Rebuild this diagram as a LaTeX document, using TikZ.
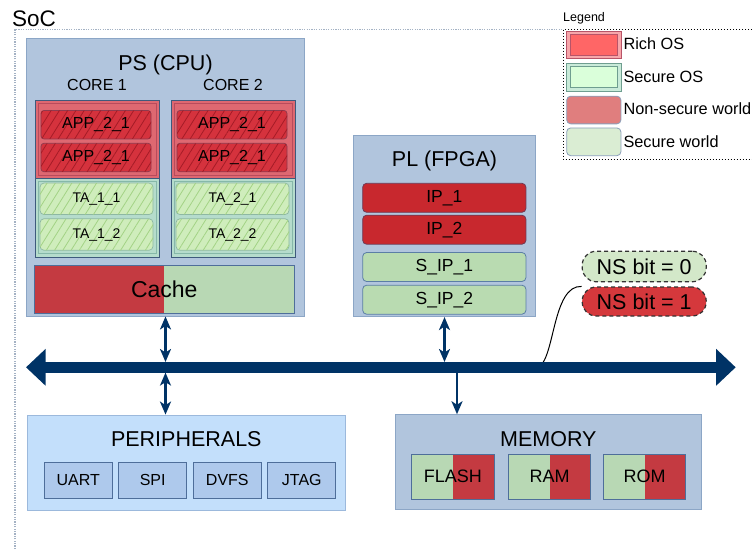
\documentclass[tikz,border=0pt]{standalone}
\usepackage{fontspec}
\setmainfont{Liberation Sans}
\definecolor{BLOCKcolor}{HTML}{B1C5DD}
\definecolor{BLOCKline}{HTML}{8CA6C6}
\definecolor{PERcolor}{HTML}{C3DFFB}
\definecolor{PERline}{HTML}{9CB9DC}
\definecolor{SUBcolor}{HTML}{AEC9EC}
\definecolor{SUBline}{HTML}{4E6E9A}
\definecolor{BUScolor}{HTML}{003366}
\definecolor{COREline}{HTML}{3E5A7C}
\definecolor{NWcolor}{HTML}{DE6871}
\definecolor{NWline}{HTML}{B84B5C}
\definecolor{APPcolor}{HTML}{D5323D}
\definecolor{APPhatch}{HTML}{A51C27}
\definecolor{APPline}{HTML}{8E3A4E}
\definecolor{SWcolor}{HTML}{B5DCCC}
\definecolor{SWline}{HTML}{86B8A9}
\definecolor{TAcolor}{HTML}{CFEDBC}
\definecolor{TAhatch}{HTML}{A3D385}
\definecolor{TAline}{HTML}{8DB7A3}
\definecolor{REDcolor}{HTML}{C43A41}
\definecolor{GREENcolor}{HTML}{B8D8B4}
\definecolor{IPcolor}{HTML}{C8282E}
\definecolor{IPline}{HTML}{6F3A55}
\definecolor{SIPcolor}{HTML}{B9DBB1}
\definecolor{SIPline}{HTML}{5B7EA6}
\definecolor{NSZcolor}{HTML}{D3E8C9}
\definecolor{NSOcolor}{HTML}{D5383C}
\definecolor{RICHcolor}{HTML}{F7A6AA}
\definecolor{RICHin}{HTML}{FF6666}
\definecolor{RICHline}{HTML}{B85468}
\definecolor{SECcolor}{HTML}{C9EBD9}
\definecolor{SECin}{HTML}{DAFFDA}
\definecolor{SECline}{HTML}{6F9E90}
\definecolor{NSWcolor}{HTML}{E07E7E}
\definecolor{SWLcolor}{HTML}{DAEDD3}
\definecolor{LEGline}{HTML}{8A9FBA}
\definecolor{SOCline}{HTML}{A4B2C4}
\usepackage{tikz}
\usetikzlibrary{math, arrows.meta, patterns.meta}

\begin{document}
\begin{tikzpicture}[x=1pt, y=-1pt]

    \tikzset{%
        block/.style={draw=BLOCKline, fill=BLOCKcolor, line width=0.8pt, inner sep=0pt},
        heading/.style={font=\fontsize{21.5}{22}\selectfont, inner sep=0pt, anchor=base},
        corelabel/.style={font=\fontsize{16}{16}\selectfont, inner sep=0pt, anchor=base},
        world/.style={draw=COREline, line width=0.9pt, minimum width=124pt, minimum height=78.4pt, inner sep=0pt, anchor=north west},
        app/.style={draw=APPline, fill=APPcolor, rounded corners=3pt, line width=0.7pt, minimum width=110pt, minimum height=28.5pt, inner sep=0pt, font=\fontsize{16}{16}\selectfont,
                postaction={pattern color=APPhatch, pattern={Lines[angle=58, distance=7pt, line width=0.8pt]}}},
        ta/.style={draw=TAline, fill=TAcolor, rounded corners=4pt, line width=0.7pt, minimum width=113pt, minimum height=31.5pt, inner sep=0pt, font=\fontsize{14}{14}\selectfont,
                postaction={pattern color=TAhatch, pattern={Lines[angle=58, distance=7pt, line width=0.8pt]}}},
        split/.style 2 args={path picture={%
                        \fill [#1] (path picture bounding box.north west) rectangle (path picture bounding box.south);
                        \fill [#2] (path picture bounding box.north) rectangle (path picture bounding box.south east);
                    }},
        cache/.style={split={REDcolor}{GREENcolor}, draw=SUBline, line width=0.8pt, minimum width=260pt, minimum height=47.6pt, inner sep=0pt, font=\fontsize{23}{23}\selectfont},
        ip/.style={draw=IPline, fill=IPcolor, rounded corners=4pt, line width=0.8pt, minimum width=163.3pt, minimum height=29pt, inner sep=0pt, font=\fontsize{17.5}{17.5}\selectfont},
        sip/.style={ip, draw=SIPline, fill=SIPcolor},
        nsbit/.style={draw=black!80, dash pattern=on 4pt off 3pt, line width=1.2pt, rounded corners=14pt, minimum width=124pt, minimum height=30.5pt, inner sep=0pt, font=\fontsize{21.5}{21.5}\selectfont},
        sub/.style={draw=SUBline, fill=SUBcolor, line width=0.8pt, minimum width=68pt, minimum height=36.5pt, inner sep=0pt, font=\fontsize{16}{16}\selectfont},
        mempart/.style={split={GREENcolor}{REDcolor}, draw=SUBline, line width=0.8pt, minimum width=82.3pt, minimum height=44.7pt, inner sep=0pt, font=\fontsize{18}{18}\selectfont},
        swatch/.style={line width=0.8pt, minimum width=54.3pt, minimum height=27.7pt, inner sep=0pt},
        swatchin/.style={line width=0.8pt, minimum width=47.7pt, minimum height=20.7pt, inner sep=0pt},
        legtext/.style={font=\fontsize{16.3}{16.3}\selectfont, inner sep=0pt, anchor=west},
        link/.style={draw=BUScolor, line width=2.2pt, <->, >={Stealth[length=13pt, width=11pt, inset=3.5pt]}},
        bus/.style={draw=BUScolor, line width=10.5pt, <->, >={Triangle[length=19.5pt, width=35.5pt]}},
        pics/core/.style={%
                code={%

                        \tikzmath{%
                            \wcore=124;
                            \hworld=78.4;
                        };

                        \node [corelabel] (-label) at (\wcore/2, -10) {CORE #1};
                        \node [world, fill=NWcolor] (-nw) at (0, 0) {};
                        \node [world, fill=SWcolor] (-sw) at (0, \hworld) {};
                        \draw [NWline, line width=0.7pt] (3, 3) rectangle (\wcore-3, \hworld-3);
                        \draw [SWline, line width=0.7pt] (3, \hworld+3) rectangle (\wcore-3, 2*\hworld-3);
                        \node [app] (-app1) at (61, 24.7) {APP\_2\_1};
                        \node [app] (-app2) at (61, 57.5) {APP\_2\_1};
                        \node [ta] (-ta1) at (61.5, 98.8) {TA\_#1\_1};
                        \node [ta] (-ta2) at (61.5, 134.5) {TA\_#1\_2};

                    }
            }
    }

    \useasboundingbox (0, 0) rectangle (752, 549);

    \draw [SOCline, line width=1.2pt, dash pattern=on 1.2pt off 1.2pt] (15, 549) |- (563, 29.3);
    \node [anchor=base west, inner sep=0pt, font=\fontsize{22.5}{22.5}\selectfont] (soc) at (12, 26) {SoC};

    \draw [black, line width=1.3pt, dash pattern=on 1.3pt off 1.7pt] (752, 29.3) -| (563.3, 159.3) -- (752, 159.3);
    \node [anchor=base west, inner sep=0pt, font=\fontsize{12.5}{12.5}\selectfont] (legend) at (563, 21.7) {Legend};
    \node [swatch, fill=RICHcolor, draw=RICHline] (leg1) at (593.8, 44.8) {};
    \node [swatchin, fill=RICHin, draw=RICHline] (leg1in) at (leg1) {};
    \node [swatch, fill=SECcolor, draw=SECline] (leg2) at (593.8, 77.2) {};
    \node [swatchin, fill=SECin, draw=SECline] (leg2in) at (leg2) {};
    \node [swatch, fill=NSWcolor, draw=LEGline, rounded corners=4pt] (leg3) at (593.8, 110) {};
    \node [swatch, fill=SWLcolor, draw=LEGline, rounded corners=4pt] (leg4) at (593.8, 141.8) {};
    \node [legtext] (leg1txt) at ([xshift=2pt, yshift=1pt]leg1.east) {Rich OS};
    \node [legtext] (leg2txt) at ([xshift=2pt]leg2.east) {Secure OS};
    \node [legtext] (leg3txt) at ([xshift=2pt, yshift=1pt]leg3.east) {Non-secure world};
    \node [legtext] (leg4txt) at ([xshift=2pt]leg4.east) {Secure world};

    \node [block, minimum width=277.6pt, minimum height=277.7pt] (ps) at (165.5, 177.2) {};
    \node [heading] (pstitle) at (165.5, 70) {PS (CPU)};
    \pic (core1) at (35, 100) {core=1};
    \pic (core2) at (171, 100) {core=2};
    \node [cache] (cache) at (164.3, 289.5) {Cache};

    \node [block, minimum width=182.4pt, minimum height=181.7pt] (pl) at (444.5, 225.8) {};
    \node [heading] (pltitle) at (444.5, 166.7) {PL (FPGA)};
    \node [ip] (ip1) at (444.3, 197.8) {IP\_1};
    \node [ip] (ip2) at (444.3, 229.7) {IP\_2};
    \node [sip] (sip1) at (444.3, 267) {S\_IP\_1};
    \node [sip] (sip2) at (444.3, 299.7) {S\_IP\_2};

    \node [nsbit, fill=NSZcolor] (ns0) at (644.2, 266.5) {NS bit = 0};
    \node [nsbit, fill=NSOcolor, minimum height=29pt] (ns1) at (644.2, 301.5) {NS bit = 1};

    \node [block, draw=PERline, fill=PERcolor, minimum width=317.3pt, minimum height=95pt] (per) at (186.3, 462.5) {};
    \node [heading] (pertitle) at (186.3, 446.7) {PERIPHERALS};
    \foreach \x/\name in {78.2/UART, 152.7/SPI, 227.3/DVFS, 301.8/JTAG} {%
            \node [sub] (\name) at (\x, 480.3) {\name};
        }

    \node [block, minimum width=306.7pt, minimum height=94.7pt] (mem) at (548.3, 462) {};
    \node [heading] (memtitle) at (548.3, 446.7) {MEMORY};
    \foreach \x/\name in {452.8/FLASH, 549.5/RAM, 644.5/ROM} {%
            \node [mempart] (\name) at (\x, 476.7) {\name};
        }

    \coordinate (busL) at (26, 367.3);
    \coordinate (busR) at (735.7, 367.3);
    \coordinate (tapmem) at (457, 367.3);
    \coordinate (tapns) at (538, 367.3);

    \draw [link, shorten >=5.3pt] (ps.south) -- (ps.south |- busL);
    \draw [link, shorten <=5.3pt] (ps.south |- busL) -- (ps.south |- per.north);
    \draw [link, shorten >=5.3pt] (pl.south) -- (pl.south |- busL);
    \draw [link, -> , shorten <=5.3pt] (tapmem) -- (tapmem |- mem.north);
    \draw [black, line width=1pt] (tapns) .. controls (555, 360) and (552, 285) .. (ns1.north west);
    \draw [bus] (busL) -- (busR);

\end{tikzpicture}
\end{document}
